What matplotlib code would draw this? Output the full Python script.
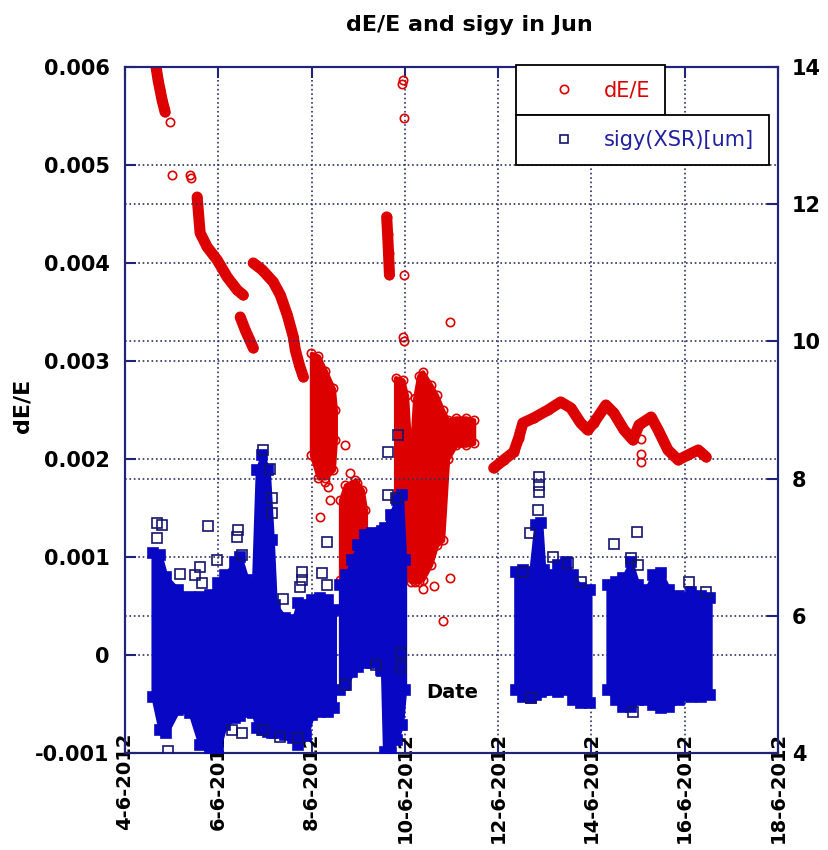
import matplotlib
matplotlib.use("Agg")
import matplotlib.pyplot as plt
from matplotlib.lines import Line2D
from matplotlib.ticker import FuncFormatter, MultipleLocator

# x = day of June 2012 ; left axis dE/E ; right axis sigy(XSR)[um]
# dE/E continuous traces
de_a_t = [4.666, 4.709, 4.752, 4.795, 4.838, 4.859]
de_a_v = [0.00600, 0.005867, 0.005765, 0.005663, 0.005582, 0.005541]
de_b_t = [5.547, 5.611, 5.762, 5.976, 6.191, 6.406, 6.535]
de_b_v = [0.004673, 0.004306, 0.004163, 0.004031, 0.003857, 0.003724, 0.003673]
de_c_t = [6.470, 6.578, 6.750]
de_c_v = [0.003449, 0.003316, 0.003133]
de_d_t = [6.750, 6.943, 7.179, 7.330, 7.480, 7.609, 7.652, 7.738, 7.824]
de_d_v = [0.00400, 0.003929, 0.003806, 0.003673, 0.003469, 0.003245, 0.003112, 0.002959, 0.002837]
de_f_t = [9.61, 9.63, 9.65, 9.67]
de_f_v = [0.00447, 0.00430, 0.00410, 0.00388]
de_h_t = [11.905, 12.12, 12.335, 12.44, 12.53, 12.76, 13.07, 13.34, 13.56, 13.77, 13.92, 14.05,
          14.31, 14.48, 14.70, 14.89, 15.02, 15.28, 15.43, 15.64, 15.86, 16.07, 16.29, 16.46]
de_h_v = [0.001908, 0.00199, 0.002071, 0.002214, 0.002367, 0.002418, 0.0025, 0.002582, 0.00252,
          0.002367, 0.002296, 0.002367, 0.002551, 0.002469, 0.002296, 0.002194, 0.002347, 0.002429,
          0.002296, 0.002092, 0.00199, 0.002041, 0.002092, 0.00202]

# dE/E dense scatter regions (lower / upper envelope)
de_band1_t = [7.996, 8.146, 8.296, 8.468, 8.511]
de_band1_lo = [0.002041, 0.001806, 0.001806, 0.001888, 0.002194]
de_band1_hi = [0.00308, 0.00305, 0.00290, 0.00272, 0.00250]
de_band2_t = [8.619, 8.726, 8.94, 9.09, 9.156]
de_band2_lo = [0.000765, 0.000684, 0.000816, 0.00102, 0.001173]
de_band2_hi = [0.001582, 0.001735, 0.001786, 0.001684, 0.00148]
de_band3_t = [9.800, 9.951, 10.037, 10.123, 10.209, 10.295, 10.380, 10.552, 10.681, 10.810,
              10.917, 11.089, 11.304, 11.476]
de_band3_lo = [0.00097, 0.00090, 0.00080, 0.00075, 0.00074, 0.00075, 0.00077, 0.00092, 0.00112,
               0.00117, 0.00200, 0.00214, 0.00214, 0.00216]
de_band3_hi = [0.00283, 0.00281, 0.00265, 0.00195, 0.00262, 0.00285, 0.00289, 0.00276, 0.00265,
               0.00250, 0.00240, 0.00242, 0.00242, 0.00240]

# dE/E isolated points
de_pt_t = [4.967, 5.010, 5.396, 5.41, 9.951, 9.94, 9.972, 9.972, 9.972, 9.96, 8.726, 8.833, 8.98,
           8.36, 8.296, 8.404, 8.189, 8.90, 10.38, 10.617, 10.96, 10.81, 10.96, 15.06, 15.06, 15.06]
de_pt_v = [0.005439, 0.004898, 0.004898, 0.00487, 0.005867, 0.00583, 0.005480, 0.003878, 0.003204,
           0.00325, 0.002143, 0.001857, 0.001755, 0.001714, 0.001765, 0.001582, 0.001408, 0.001612,
           0.000673, 0.000704, 0.000786, 0.000347, 0.003398, 0.0022, 0.00205, 0.00197]

# sigy dense blocks (lower / upper envelope)
sg1_t = [4.601, 4.752, 4.881, 5.139, 5.396, 5.611, 5.826, 5.998, 6.148, 6.363, 6.470, 6.621, 6.750,
         6.836, 6.943, 7.072, 7.158, 7.222, 7.437, 7.609, 7.716, 7.888, 8.017, 8.189, 8.361, 8.490]
sg1_hi = [6.916, 6.887, 6.566, 6.376, 6.274, 6.274, 6.303, 6.478, 6.595, 6.784, 6.857, 6.522, 6.376,
          8.125, 8.344, 8.125, 7.105, 6.157, 5.968, 5.939, 6.187, 6.157, 6.230, 6.260, 6.230, 6.085]
sg1_lo = [4.816, 4.335, 4.292, 4.627, 4.583, 4.117, 4.015, 4.044, 4.408, 4.510, 4.540, 4.598, 4.583,
          4.364, 4.335, 4.306, 4.292, 4.292, 4.263, 4.219, 4.117, 4.248, 4.554, 4.598, 4.598, 4.656]
sg2_t = [8.619, 8.747, 8.876, 9.005, 9.156, 9.306, 9.478, 9.52, 9.564, 9.693, 9.822, 9.929, 9.994]
sg2_hi = [6.449, 6.595, 6.814, 7.032, 7.178, 7.207, 7.207, 7.24, 7.280, 7.469, 7.688, 7.761, 6.814]
sg2_lo = [4.918, 4.991, 5.181, 5.254, 5.312, 5.312, 5.210, 5.20, 4.015, 4.0, 4.190, 4.408, 4.918]
sg3_t = [12.378, 12.528, 12.700, 12.807, 12.915, 12.979, 13.130, 13.280, 13.452, 13.602, 13.774, 13.968]
sg3_hi = [6.639, 6.668, 6.639, 7.324, 7.353, 6.668, 6.595, 6.741, 6.784, 6.595, 6.405, 6.376]
sg3_lo = [4.918, 4.816, 4.802, 4.846, 4.889, 4.918, 4.918, 4.889, 4.918, 4.773, 4.729, 4.729]
sg4_t = [14.354, 14.526, 14.677, 14.848, 14.999, 15.171, 15.321, 15.493, 15.665, 15.879, 16.137,
         16.352, 16.545]
sg4_hi = [6.449, 6.493, 6.551, 6.784, 6.449, 6.376, 6.595, 6.624, 6.376, 6.289, 6.347, 6.289, 6.260]
sg4_lo = [4.918, 4.773, 4.671, 4.671, 4.773, 4.773, 4.700, 4.656, 4.671, 4.773, 4.816, 4.816, 4.846]

# sigy isolated points
sg_pt_t = [4.687, 4.795, 4.687, 4.924, 5.783, 6.427, 6.406, 5.976, 5.611, 5.182, 5.504, 5.654, 6.513,
           7.394, 7.802, 7.802, 7.759, 8.232, 8.339, 8.339, 6.965, 7.115, 7.158, 7.158, 6.299, 6.513,
           6.965, 7.330, 7.716, 9.628, 9.843, 9.628, 9.80, 8.726, 9.371, 9.908, 9.908,
           12.872, 12.872, 12.872, 12.851, 12.679, 13.173, 13.774, 12.528, 13.495, 12.700,
           14.483, 14.977, 14.848, 14.999, 14.891, 16.094, 16.459]
sg_pt_v = [7.353, 7.324, 7.134, 4.029, 7.309, 7.251, 7.149, 6.814, 6.712, 6.609, 6.595, 6.478, 6.886,
           6.245, 6.639, 6.522, 6.420, 6.624, 6.449, 7.076, 8.417, 8.140, 7.717, 7.499, 4.335, 4.292,
           4.335, 4.233, 4.219, 8.388, 8.636, 7.761, 7.717, 4.991, 5.283, 5.458, 5.254,
           8.024, 7.907, 7.805, 7.542, 7.207, 6.857, 6.493, 6.639, 6.770, 4.802,
           7.047, 7.222, 6.843, 6.741, 4.598, 6.493, 6.347]

x_ticks = [4, 6, 8, 10, 12, 14, 16, 18]

RED = '#dd0000'; BLUE = '#0808c4'; NAVY = '#14146e'; AXC = '#22227a'; GRID = '#2e2e66'

fig = plt.figure(figsize=(8.29, 8.5), dpi=100)
ax = fig.add_axes([125/829, 1-753/850, 653/829, 686/850])
ax2 = ax.twinx()

# dE/E (left)
circ = dict(marker='o', ms=6, mfc='none', mec=RED, mew=1.2)
for t, v in [(de_a_t, de_a_v), (de_b_t, de_b_v), (de_c_t, de_c_v), (de_d_t, de_d_v),
             (de_f_t, de_f_v), (de_h_t, de_h_v)]:
    ax.plot(t, v, color=RED, lw=8, solid_capstyle='round', solid_joinstyle='round', zorder=3, **circ)
for t, lo, hi in [(de_band1_t, de_band1_lo, de_band1_hi), (de_band2_t, de_band2_lo, de_band2_hi),
                  (de_band3_t, de_band3_lo, de_band3_hi)]:
    ax.fill_between(t, lo, hi, color=RED, lw=3, edgecolor=RED, zorder=3)
    ax.plot(t, lo, ls='none', zorder=3, **circ)
    ax.plot(t, hi, ls='none', zorder=3, **circ)
ax.plot(de_pt_t, de_pt_v, ls='none', zorder=3, **circ)

# sigy (right)
sq = dict(marker='s', ms=6.5, mfc='none', mec=NAVY, mew=1.2)
for t, lo, hi in [(sg1_t, sg1_lo, sg1_hi), (sg2_t, sg2_lo, sg2_hi), (sg3_t, sg3_lo, sg3_hi),
                  (sg4_t, sg4_lo, sg4_hi)]:
    ax2.fill_between(t, lo, hi, color=BLUE, lw=3, edgecolor=BLUE, zorder=3)
    ax2.plot(t, lo, ls='none', zorder=3, **dict(sq, mfc=BLUE, mec=BLUE))
    ax2.plot(t, hi, ls='none', zorder=3, **dict(sq, mfc=BLUE, mec=BLUE))
ax2.plot(sg_pt_t, sg_pt_v, ls='none', zorder=3, **sq)

ax.set_xlim(4, 18); ax.set_ylim(-0.001, 0.006); ax2.set_ylim(4, 14)
ax.set_xticks(x_ticks)
ax.xaxis.set_major_formatter(FuncFormatter(lambda v, p: "%d-6-2012" % int(round(v))))
ax.yaxis.set_major_locator(MultipleLocator(0.001))
ax.yaxis.set_major_formatter(FuncFormatter(lambda v, p: "%g" % round(v, 4)))
ax2.yaxis.set_major_locator(MultipleLocator(2))

ax.grid(True, color=GRID, ls=':', lw=1.2)
ax2.grid(True, axis='y', color=GRID, ls=':', lw=1.2)
ax.set_axisbelow(True); ax2.set_axisbelow(True)
for a in (ax, ax2):
    for s in a.spines.values():
        s.set_color(AXC); s.set_linewidth(1.5)
ax.tick_params(axis='x', direction='in', length=8, width=1.5, color=AXC, top=True,
               labelsize=14, rotation=90, pad=-15)
ax.tick_params(axis='y', direction='in', length=8, width=1.5, color=AXC, labelsize=15, pad=11)
ax2.tick_params(axis='y', direction='in', length=8, width=1.5, color=AXC, labelsize=15, pad=10)
for lab in ax.get_xticklabels() + ax.get_yticklabels() + ax2.get_yticklabels():
    lab.set_fontweight('bold')

fig.text(469/829, 1-25/850, "dE/E and sigy in Jun", ha='center', va='center',
         fontsize=16, fontweight='bold')
fig.text(23/829, 1-406/850, "dE/E", rotation=90, ha='center', va='center',
         fontsize=16, fontweight='bold')
ax.text(0.5008, 0.0875, "Date", transform=ax.transAxes, ha='center', va='center',
        fontsize=14, fontweight='bold', zorder=6)

# two separate legend boxes like the original
h1 = Line2D([], [], ls='none', marker='o', ms=6, mfc='none', mec=RED, mew=1.2)
h2 = Line2D([], [], ls='none', marker='s', ms=6, mfc='none', mec=NAVY, mew=1.2)
kw = dict(loc='upper left', bbox_transform=fig.transFigure, borderaxespad=0, fancybox=False,
          edgecolor='black', framealpha=1, prop={'size': 15}, handlelength=3.2,
          handletextpad=0.3, borderpad=0.72)
leg1 = ax2.legend([h1], ['dE/E'], bbox_to_anchor=(516/829, 1-65/850), **kw)
leg1.get_texts()[0].set_color(RED); leg1.get_frame().set_linewidth(1.3)
ax2.add_artist(leg1)
leg2 = ax2.legend([h2], ['sigy(XSR)[um]'], bbox_to_anchor=(516/829, 1-115/850), **kw)
leg2.get_texts()[0].set_color('#2020a0'); leg2.get_frame().set_linewidth(1.3)
leg1.set_zorder(10); leg2.set_zorder(10)

fig.savefig("out.png", dpi=100)
